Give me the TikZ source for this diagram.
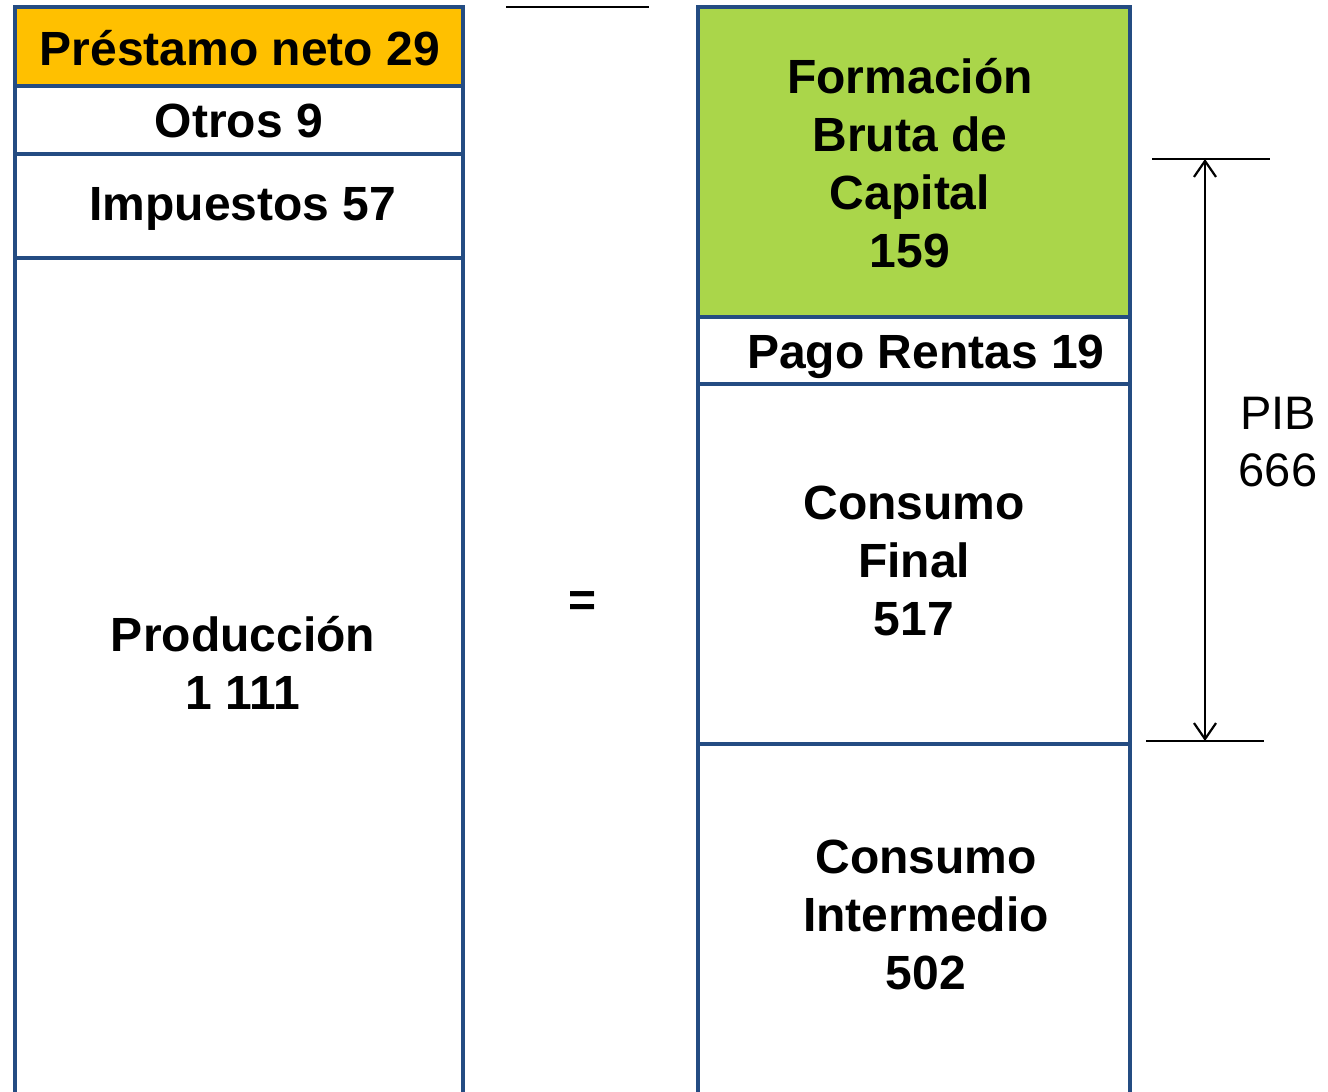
\documentclass[tikz,border=0pt]{standalone}
\usepackage{fontspec}
\setmainfont{Liberation Sans}
\usetikzlibrary{arrows.meta}
\definecolor{boxblue}{RGB}{36,76,130}
\definecolor{boxorange}{RGB}{255,192,0}
\definecolor{boxgreen}{RGB}{170,214,74}
\begin{document}
\begin{tikzpicture}[x=1pt,y=-1pt,
  cell/.style={draw=boxblue,line width=4pt},
  lbl/.style={font=\fontsize{48}{58}\selectfont\bfseries,align=center,inner sep=0pt,text depth=0pt},
  plain/.style={font=\fontsize{47}{57}\selectfont,align=center,inner sep=0pt},
  thin/.style={line width=1.8pt,black}]
\useasboundingbox (0,0) rectangle (1328,1092);
\clip (0,0) rectangle (1328,1092);
% left column
\draw[cell,fill=boxorange] (15,7) rectangle (463,86);
\draw[cell,fill=white] (15,86) rectangle (463,154);
\draw[cell,fill=white] (15,154) rectangle (463,258);
\draw[cell,fill=white] (15,258) rectangle (463,1110);
% right column
\draw[cell,fill=boxgreen] (698,7) rectangle (1130,317);
\draw[cell,fill=white] (698,317) rectangle (1130,384);
\draw[cell,fill=white] (698,384) rectangle (1130,744);
\draw[cell,fill=white] (698,744) rectangle (1130,1110);
% labels
\node[lbl] (pn) at (240,48) {Préstamo neto 29};
\node[lbl] (ot) at (239,121) {Otros 9};
\node[lbl] (im) at (243,204) {Impuestos 57};
\node[lbl] (pr) at (243,663) {Producción\\1 111};
\node[lbl] (fb) at (910,163) {Formación\\Bruta de\\Capital\\159};
\node[lbl] (pg) at (926,352) {Pago Rentas 19};
\node[lbl] (cf) at (914,561) {Consumo\\Final\\517};
\node[lbl] (ci) at (926,915) {Consumo\\Intermedio\\502};
\node[lbl] (eq) at (583,604) {=};
% top line
\coordinate (tl1) at (506,7);
\coordinate (tl2) at (649,7);
\draw[thin] (tl1) -- (tl2);
% PIB dimension
\coordinate (t1) at (1152,159);
\coordinate (t2) at (1270,159);
\coordinate (b1) at (1146,741);
\coordinate (b2) at (1264,741);
\coordinate (at) at (1205,159);
\coordinate (ab) at (1205,741);
\draw[thin] (t1) -- (t2);
\draw[thin] (b1) -- (b2);
\draw[thin,line width=2pt,{Straight Barb[length=16pt,width=22pt,line width=2.2pt]}-{Straight Barb[length=16pt,width=22pt,line width=2.2pt]}] (at) -- (ab);
\node[plain] (pib) at (1278,442) {PIB\\666};
\end{tikzpicture}
\end{document}
